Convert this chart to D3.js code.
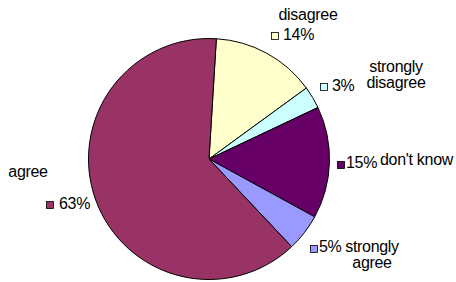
<!DOCTYPE html>
<html>
<head>
<meta charset="utf-8">
<script src="https://cdn.jsdelivr.net/npm/d3@7"></script>
<style>
  body { margin: 0; background: #fff; }
  svg { display: block; font-family: "Liberation Sans", Arial, sans-serif; }
</style>
</head>
<body>
<div id="chart"></div>
<script>
'use strict';

// slices, clockwise from 12 o'clock
var categories = ['disagree', 'strongly disagree', "don't know", 'strongly agree', 'agree'];
var percents = [14, 3, 15, 5, 63];
var colors = ['#ffffcc', '#ccffff', '#660066', '#9999ff', '#993366'];

// hand-placed labels, like the original sheet
var labelPlaces = [
    { key: [271, 32], pct: [283, 40], name: [308, 20], lines: ['disagree'] },
    { key: [320, 83], pct: [332, 91], name: [396, 72], lines: ['strongly', 'disagree'] },
    { key: [337, 161], pct: [346, 168], name: [380, 165], lines: ["don't know"], anchor: 'start' },
    { key: [310, 245], pct: [319, 252], name: [372, 252], lines: ['strongly', 'agree'] },
    { key: [46, 201], pct: [59, 209], name: [28, 177], lines: ['agree'] }
];

var width = 456;
var height = 282;
var cx = 209, cy = 159, radius = 120.5;

var svg = d3.select('#chart')
    .append('svg')
    .attr('width', width)
    .attr('height', height);

var data = categories.map(function (c, i) {
    return { name: c, value: percents[i], color: colors[i], place: labelPlaces[i] };
});

var pie = d3.pie()
    .sort(null)
    .value(function (d) { return d.value; })
    .startAngle(3.5 * Math.PI / 180)
    .endAngle(3.5 * Math.PI / 180 + 2 * Math.PI);

var arc = d3.arc()
    .innerRadius(0)
    .outerRadius(radius);

svg.append('g')
    .attr('transform', 'translate(' + cx + ',' + cy + ')')
    .selectAll('path')
    .data(pie(data))
    .enter()
    .append('path')
    .attr('d', arc)
    .style('fill', function (d) { return d.data.color; })
    .style('stroke', '#000')
    .style('stroke-width', 1);

var labels = svg.selectAll('.label')
    .data(data)
    .enter()
    .append('g')
    .attr('class', 'label');

labels.append('rect')
    .attr('x', function (d) { return d.place.key[0] + 0.5; })
    .attr('y', function (d) { return d.place.key[1] + 0.5; })
    .attr('width', 7)
    .attr('height', 7)
    .style('fill', function (d) { return d.color; })
    .style('stroke', '#000')
    .style('stroke-width', 0.8);

labels.append('text')
    .attr('x', function (d) { return d.place.pct[0]; })
    .attr('y', function (d) { return d.place.pct[1]; })
    .style('font-size', '16px')
    .style('letter-spacing', '-0.3px')
    .text(function (d) { return d.value + '%'; });

labels.each(function (d) {
    var t = d3.select(this).append('text')
        .attr('x', d.place.name[0])
        .attr('y', d.place.name[1])
        .attr('text-anchor', d.place.anchor || 'middle')
        .style('font-size', '16px')
        .style('letter-spacing', '-0.3px');
    d.place.lines.forEach(function (line, i) {
        t.append('tspan')
            .attr('x', d.place.name[0])
            .attr('dy', i === 0 ? 0 : 16)
            .text(line);
    });
});
</script>
</body>
</html>
